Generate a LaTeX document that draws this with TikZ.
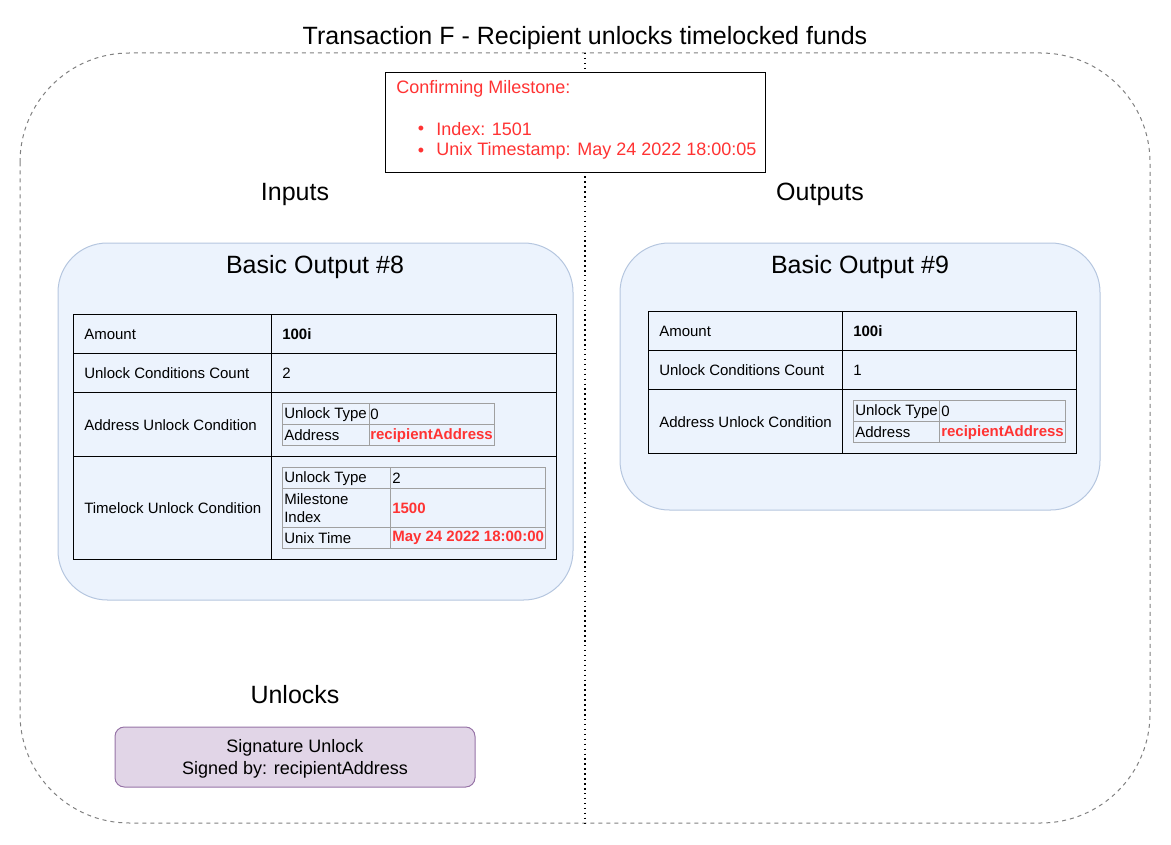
\documentclass[tikz,border=0pt]{standalone}
\usepackage{fontspec}
\setmainfont{Liberation Sans}
\definecolor{msred}{HTML}{FF3333}
\definecolor{boxfill}{HTML}{ECF3FD}
\definecolor{boxline}{HTML}{B5C6DF}
\definecolor{sigfill}{HTML}{E1D5E7}
\definecolor{sigline}{HTML}{9673A6}
\definecolor{subline}{HTML}{A0A0A0}
\begin{document}
\begin{tikzpicture}[x=0.75pt,y=-0.75pt,
  heading/.style={inner sep=0pt,yshift=-1.5pt,font=\fontsize{18.75}{22}\selectfont},
  note/.style={inner sep=0pt,yshift=-1.5pt,font=\fontsize{13.5}{16.5}\selectfont},
  cell/.style={anchor=west,inner sep=0pt,yshift=-0.5pt,font=\fontsize{11.25}{14}\selectfont},
  val/.style={cell,text=msred,font=\fontsize{11.25}{14}\selectfont\bfseries},
  container/.style={draw=boxline,fill=boxfill,line width=0.75pt,rounded corners=37pt},
  grid/.style={draw,line width=0.75pt},
  subgrid/.style={draw=subline,line width=0.75pt}]
\useasboundingbox (0,0) rectangle (1171,845);
% frame and divider
\draw[draw=gray,line width=0.75pt,dash pattern=on 3pt off 3pt,rounded corners=82pt] (20,53) rectangle (1150,823);
\draw[line width=1.1pt,dash pattern=on 1.1pt off 2.6pt] (585,53) -- (585,823);
\node[heading] (title) at (585,36) {Transaction F - Recipient unlocks timelocked funds};
% milestone
\node[draw,fill=white,line width=0.75pt,minimum width=285pt,minimum height=75pt] (ms) at (575,123) {};
\node[note,anchor=west,text=msred] (mshead) at (396,87) {Confirming Milestone:};
\node[note,text=msred] (bul1) at (421,128) {\textbullet};
\node[note,text=msred] (bul2) at (421,150) {\textbullet};
\node[note,anchor=west,text=msred] (msidx) at (436,127) {Index: 1501};
\node[note,anchor=west,text=msred] (mstime) at (436,149) {Unix Timestamp: May 24 2022 18:00:05};
\node[heading] (inputs) at (295,192) {Inputs};
\node[heading] (outputs) at (820,192) {Outputs};
% basic output 8
\draw[container] (58,243) rectangle (573,600);
\node[heading] (bo8) at (315,265) {Basic Output \#8};
\draw[grid] (73,314) rectangle (556,559);
\foreach \y in {353,392,456} \draw[grid] (73,\y) -- (556,\y);
\draw[grid] (271,314) -- (271,559);
\node[cell] (amt8) at (84,333.5) {Amount};
\node[cell] (ucc8) at (84,372.5) {Unlock Conditions Count};
\node[cell] (auc8) at (84,424) {Address Unlock Condition};
\node[cell] (tuc8) at (84,507.5) {Timelock Unlock Condition};
\node[cell,font=\fontsize{11.25}{14}\selectfont\bfseries] (amtv8) at (282,333.5) {100i};
\node[cell] (uccv8) at (282,372.5) {2};
\draw[subgrid] (282,403) rectangle (494,445);
\draw[subgrid] (282,424) -- (494,424);
\draw[subgrid] (369,403) -- (369,445);
\node[cell] (aty8) at (284,413.5) {Unlock Type};
\node[cell] (atyv8) at (370,413.5) {0};
\node[cell] (aad8) at (284,434.5) {Address};
\node[val] (aadv8) at (370,434.5) {recipientAddress};
\draw[subgrid] (282,467) rectangle (545,548);
\foreach \y in {488,527} \draw[subgrid] (282,\y) -- (545,\y);
\draw[subgrid] (390,467) -- (390,548);
\node[cell] (tty8) at (284,477.5) {Unlock Type};
\node[cell] (ttyv8) at (392,477.5) {2};
\node[cell,align=left] (tmi8) at (284,507.5) {Milestone\\Index};
\node[val] (tmiv8) at (392,507.5) {1500};
\node[cell] (tut8) at (284,537.5) {Unix Time};
\node[val] (tutv8) at (392,537.5) {May 24 2022 18:00:00};
% basic output 9
\draw[container] (620,243) rectangle (1100,510);
\node[heading] (bo9) at (860,265) {Basic Output \#9};
\draw[grid] (648,311) rectangle (1076,453);
\foreach \y in {350,389} \draw[grid] (648,\y) -- (1076,\y);
\draw[grid] (842,311) -- (842,453);
\node[cell] (amt9) at (659,330.5) {Amount};
\node[cell] (ucc9) at (659,369.5) {Unlock Conditions Count};
\node[cell] (auc9) at (659,421) {Address Unlock Condition};
\node[cell,font=\fontsize{11.25}{14}\selectfont\bfseries] (amtv9) at (853,330.5) {100i};
\node[cell] (uccv9) at (853,369.5) {1};
\draw[subgrid] (853,400) rectangle (1065,442);
\draw[subgrid] (853,421) -- (1065,421);
\draw[subgrid] (939,400) -- (939,442);
\node[cell] (aty9) at (855,410.5) {Unlock Type};
\node[cell] (atyv9) at (941,410.5) {0};
\node[cell] (aad9) at (855,431.5) {Address};
\node[val] (aadv9) at (941,431.5) {recipientAddress};
% unlocks
\node[heading] (unlocks) at (295,693) {Unlocks};
\node[draw=sigline,fill=sigfill,line width=0.75pt,rounded corners=7pt,minimum width=270pt,minimum height=45pt] (sig) at (295,757) {};
\node[note,align=center] (sigtext) at (sig.center) {Signature Unlock\\Signed by: recipientAddress};
\end{tikzpicture}
\end{document}
